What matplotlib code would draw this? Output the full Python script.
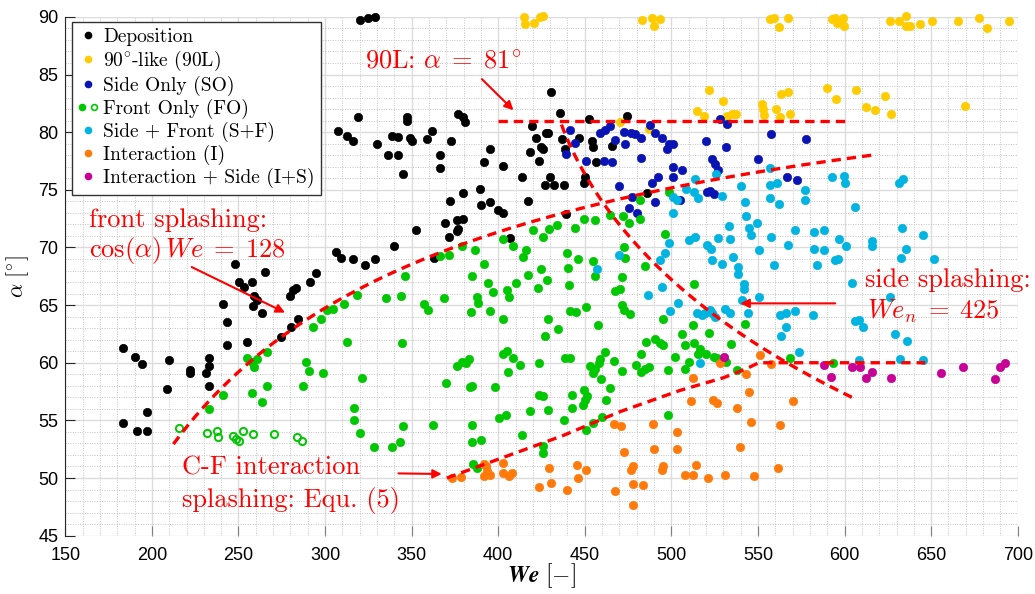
import numpy as np
import matplotlib
matplotlib.use('Agg')
import matplotlib.pyplot as plt
from matplotlib.lines import Line2D
from matplotlib.legend_handler import HandlerTuple
from matplotlib.ticker import MultipleLocator

plt.rcParams['mathtext.fontset'] = 'cm'
plt.rcParams['font.family'] = ['Liberation Sans', 'DejaVu Sans']
plt.rcParams['axes.unicode_minus'] = False

# ---------------- data (We, alpha) ----------------
deposition = [
    (183.5, 61.3), (183.5, 54.75), (190.2, 60.5), (194.1, 59.9), (191.2, 54.1), (197.0, 55.7),
    (197.0, 54.1), (209.9, 60.2), (208.5, 57.7), (222.0, 59.4), (222.0, 59.1), (231.1, 59.1),
    (233.0, 60.4), (233.0, 59.7), (233.0, 58.0), (241.3, 65.1), (243.6, 63.5), (243.6, 61.5),
    (255.1, 61.8), (258.6, 64.9), (263.4, 64.3), (274.6, 62.2), (280.4, 63.1), (284.2, 63.8),
    (248.0, 68.6), (250.1, 67.0), (253.4, 66.55), (258.0, 67.0), (265.4, 67.85), (259.2, 65.8),
    (260.5, 65.4), (279.8, 65.8), (281.7, 66.3), (283.3, 66.5), (291.3, 67.0), (294.8, 67.8),
    (306.4, 69.6), (309.1, 69.05), (307.7, 80.1), (312.5, 79.7),
    (320.2, 89.7), (325.0, 89.9), (328.9, 90.0), (316.4, 79.2), (318.9, 81.3), (329.9, 78.95),
    (336.6, 78.0), (342.0, 78.0), (338.9, 79.7), (342.4, 79.6), (344.9, 76.4), (347.2, 81.3),
    (347.2, 81.0), (349.1, 79.5), (350.1, 79.2), (359.1, 79.4), (362.0, 80.1), (366.4, 78.0),
    (366.1, 76.9), (372.6, 79.2), (376.7, 81.6), (379.5, 81.35), (380.9, 80.9), (391.5, 77.4),
    (395.0, 78.5), (403.0, 77.1), (379.5, 74.7), (372.2, 74.0), (389.6, 75.1), (389.9, 73.7),
    (395.0, 73.9), (399.8, 73.25), (403.0, 72.96), (376.1, 72.4), (379.4, 72.5), (369.0, 72.1),
    (376.5, 71.6), (371.5, 70.9), (376.1, 71.4), (352.6, 71.5), (340.1, 70.1), (316.0, 69.0),
    (323.1, 68.5), (328.9, 69.0), (363.0, 69.1), (407.0, 70.8), (414.0, 76.1), (417.3, 74.0),
    (418.1, 78.25), (419.4, 80.5), (421.7, 79.5), (423.6, 77.5), (424.8, 78.75), (426.1, 78.5),
    (427.7, 79.9), (429.0, 79.9), (430.6, 83.5), (430.0, 76.1), (427.1, 75.4), (432.5, 75.4),
    (437.7, 75.4), (435.8, 81.7), (436.7, 79.4), (438.3, 78.5), (446.4, 79.5), (449.3, 75.6),
    (450.2, 76.1), (452.7, 81.1), (454.1, 79.2), (454.5, 78.75), (456.6, 77.4), (465.6, 78.8),
    (474.3, 81.4), (485.8, 74.7), (439.0, 72.9),
]

like90 = [
    (414.6, 90.0), (415.2, 89.4), (420.8, 89.5), (426.1, 90.1), (424.2, 90.0),
    (483.0, 89.7), (488.7, 89.9), (489.7, 89.2), (493.5, 89.8), (470.4, 80.9), (486.8, 80.3),
    (556.7, 89.8), (559.0, 89.9), (562.3, 89.15), (567.3, 89.9), (592.7, 89.8), (595.6, 89.5),
    (599.1, 89.9), (599.5, 89.2), (594.6, 89.9), (626.0, 89.6), (631.2, 89.6), (635.7, 90.1),
    (635.7, 89.2), (638.0, 89.2), (643.8, 89.4), (650.5, 89.6), (665.5, 89.6), (677.5, 89.9),
    (682.3, 89.0), (694.8, 89.6),
    (522.0, 83.7), (529.7, 82.7), (514.7, 81.8), (518.6, 81.4), (532.1, 81.4), (535.0, 81.6),
    (537.5, 81.6), (552.3, 82.4), (552.9, 82.0), (553.6, 81.5), (560.4, 82.0), (563.3, 83.3),
    (567.3, 83.5), (562.9, 81.3), (568.3, 81.55), (589.8, 83.8), (595.2, 82.9), (606.8, 83.7),
    (612.6, 82.2), (617.8, 81.9), (623.5, 83.1), (626.8, 81.6), (669.4, 82.3),
]

side_only = [
    (441.6, 80.2), (444.1, 79.1), (439.0, 78.1), (450.8, 77.5), (458.5, 79.96), (461.8, 80.2),
    (464.7, 80.5), (467.5, 79.3), (472.9, 80.05), (473.3, 78.95), (476.8, 79.96), (479.1, 79.8),
    (482.4, 79.5), (487.4, 80.6), (490.3, 79.9), (494.5, 79.5), (497.4, 78.5), (501.2, 79.0),
    (498.4, 79.0), (482.4, 77.8), (460.8, 77.5), (465.6, 77.4), (469.5, 75.3), (477.2, 74.35),
    (475.6, 73.4), (480.4, 72.96), (488.7, 75.6), (492.0, 76.1), (490.7, 73.9), (500.9, 77.0),
    (501.2, 76.1),
    (527.8, 81.1), (532.1, 80.7), (520.1, 79.2), (531.7, 78.75), (557.7, 79.8), (577.5, 79.4),
    (549.8, 77.7), (523.4, 77.7), (524.9, 77.2), (526.9, 76.7), (506.1, 76.7), (566.7, 76.1),
    (572.5, 75.85), (520.5, 74.8), (522.4, 74.9), (524.4, 74.6), (505.1, 74.1),
]

front_only = [
    (255.1, 60.4), (258.0, 60.1), (260.5, 60.3), (259.0, 59.6), (266.3, 60.9), (258.0, 57.4),
    (263.8, 56.6), (266.7, 58.0), (240.9, 57.2), (233.2, 56.0), (289.0, 60.1), (291.0, 59.3),
    (298.7, 59.1), (287.5, 58.0), (292.9, 63.1), (297.5, 63.8), (301.4, 64.6), (304.8, 64.7),
    (311.0, 65.1), (312.5, 61.8),
    (318.3, 65.9), (335.3, 65.6), (343.7, 65.8), (357.2, 65.1), (359.7, 64.6), (368.8, 65.6),
    (387.6, 65.7), (388.6, 65.15), (396.7, 66.1), (406.5, 65.7), (384.4, 64.4), (395.0, 64.5),
    (402.5, 63.8), (344.3, 61.7), (321.2, 58.7), (316.8, 56.1), (316.8, 55.0), (320.2, 53.9),
    (328.3, 52.7), (338.5, 52.7), (343.0, 53.1), (344.9, 54.5), (362.2, 54.6), (369.9, 58.2),
    (376.1, 59.7), (379.0, 60.1), (381.5, 60.0), (383.4, 60.3), (383.8, 57.9), (384.7, 58.0),
    (398.2, 57.9), (384.7, 54.6), (384.7, 53.1), (390.1, 53.3), (385.3, 51.2), (387.6, 50.85),
    (402.7, 60.8), (405.0, 61.0), (408.4, 60.4), (405.5, 59.2), (412.7, 59.8), (400.2, 55.2),
    (404.6, 55.5), (414.0, 53.7), (418.1, 55.85), (423.3, 57.2), (425.8, 57.1), (428.5, 55.9),
    (423.8, 60.0), (427.1, 62.3), (428.5, 63.8), (434.8, 62.9), (426.1, 52.8), (425.8, 52.2),
    (437.7, 55.0), (442.5, 57.2), (442.5, 56.05), (438.7, 60.4), (441.2, 60.4), (441.2, 64.5),
    (445.0, 64.4), (450.6, 64.8), (457.9, 63.3), (449.3, 57.6), (450.2, 56.8), (451.2, 57.1),
    (448.9, 56.3), (450.8, 54.2), (455.0, 54.8), (459.8, 55.3), (453.1, 59.7), (456.0, 59.5),
    (458.0, 59.95), (458.9, 60.3), (461.8, 60.9), (455.0, 59.1), (459.3, 58.6), (464.7, 57.8),
    (462.3, 56.8), (467.0, 60.15), (471.4, 59.3), (471.4, 65.0), (472.4, 64.6), (476.2, 64.2),
    (479.7, 59.8), (482.4, 60.8), (482.6, 59.2), (484.9, 59.5), (486.8, 59.6), (485.3, 61.8),
    (490.7, 62.1), (493.5, 61.7), (494.9, 61.5), (495.1, 63.8), (502.2, 60.5), (498.0, 59.4),
    (498.0, 55.5),
    (481.6, 74.1), (464.7, 72.8), (472.0, 72.7), (475.8, 72.1), (481.6, 72.5), (449.6, 72.5),
    (456.0, 72.4), (444.4, 71.7), (433.8, 71.95), (429.6, 71.6), (420.0, 71.5), (426.1, 70.9),
    (403.0, 70.7), (408.4, 70.1), (414.2, 69.2), (416.1, 69.8), (439.8, 69.5), (445.8, 69.0),
    (454.6, 68.8), (440.2, 68.25), (456.0, 67.5), (471.4, 67.4), (470.4, 66.4), (467.5, 66.2),
    (472.4, 70.0), (473.0, 69.1), (484.9, 68.4), (496.1, 71.2), (498.4, 74.8), (424.8, 68.1),
    (428.1, 67.2), (422.7, 66.5), (417.1, 67.6), (410.4, 66.9), (405.0, 66.3), (394.0, 66.9),
    (391.9, 68.6), (385.1, 67.5), (386.7, 69.8), (379.0, 70.1), (371.3, 69.35), (366.4, 69.3),
    (346.2, 67.5), (440.6, 66.75),
    (512.8, 66.8), (512.2, 63.3), (521.9, 62.6), (506.1, 62.5), (508.0, 61.5), (512.8, 61.7),
    (516.3, 61.2), (515.1, 60.8), (520.1, 60.8), (524.4, 60.5), (526.3, 60.4), (531.7, 60.1),
    (509.9, 60.1), (508.0, 59.5), (534.4, 61.6), (537.8, 59.4), (542.7, 63.4), (568.6, 60.4),
    (593.3, 60.0),
]

front_only_open = [
    (215.5, 54.3), (232.0, 53.9), (237.8, 54.1), (238.4, 53.6), (247.1, 53.65), (248.6, 53.4),
    (250.5, 53.25), (252.4, 54.1), (258.6, 53.8), (270.5, 53.8), (284.0, 53.6), (286.5, 53.2),
]

side_front = [
    (501.2, 74.4), (503.2, 74.1), (501.2, 72.96), (498.9, 70.4), (496.4, 69.5), (493.5, 68.9),
    (494.5, 66.6), (486.4, 65.9), (470.0, 69.35), (456.9, 68.1), (499.3, 64.5), (504.1, 65.15),
    (525.9, 76.4), (556.7, 76.9), (513.8, 75.9), (508.6, 75.1), (512.8, 74.8), (515.1, 74.3),
    (529.2, 74.5), (540.3, 75.3), (556.7, 75.4), (560.9, 75.6), (556.7, 74.3), (561.9, 73.8),
    (577.3, 75.0), (577.3, 74.1), (592.7, 76.1), (599.5, 76.2), (600.0, 75.6), (631.2, 75.6),
    (633.7, 75.9), (606.2, 73.5), (542.3, 73.9), (543.0, 72.7), (549.4, 72.15), (545.0, 71.7),
    (546.1, 71.1), (533.0, 71.9), (533.6, 70.7), (526.7, 70.85), (509.9, 70.65), (513.8, 70.9),
    (520.5, 70.2), (522.8, 69.9), (550.4, 69.8), (557.5, 70.9), (567.1, 70.2), (571.2, 71.5),
    (582.5, 71.3), (587.9, 71.5), (582.5, 69.9), (588.3, 69.8), (596.6, 70.7), (601.0, 70.1),
    (615.8, 70.6), (615.8, 70.1), (633.2, 71.7), (645.3, 71.1), (635.5, 69.9), (632.8, 69.1),
    (651.8, 69.0), (594.6, 68.9), (596.0, 69.0), (584.1, 68.5), (559.0, 68.5), (535.5, 69.2),
    (523.4, 68.9), (529.2, 68.6), (538.2, 68.3), (538.2, 67.7), (541.7, 66.8), (541.7, 66.4),
    (604.3, 66.9),
    (540.7, 65.4), (550.7, 65.7), (544.0, 64.3), (514.7, 64.3), (517.6, 64.1), (519.5, 64.3),
    (522.4, 64.6), (523.4, 64.3), (525.3, 64.0), (531.1, 64.7), (533.6, 64.3), (562.5, 64.1),
    (566.3, 64.3), (571.5, 64.5), (581.7, 64.1), (566.3, 63.1), (563.3, 62.35), (606.2, 63.6),
    (608.1, 63.7), (610.6, 63.1), (626.4, 65.7), (629.3, 62.5), (636.0, 61.9), (573.5, 60.96),
    (516.7, 59.95), (608.1, 60.2), (632.2, 60.3), (645.1, 60.2),
]

interaction = [
    (373.2, 50.0), (378.6, 50.1), (391.9, 51.2), (393.4, 50.6), (391.5, 50.2), (395.3, 50.3),
    (393.0, 51.0), (402.7, 51.3), (402.5, 50.4), (406.3, 50.2), (407.9, 50.4), (423.8, 49.2),
    (430.4, 49.6), (440.0, 49.0), (429.4, 50.9), (445.4, 51.1), (450.8, 50.7), (445.8, 50.0),
    (466.6, 54.7), (470.8, 54.5), (472.4, 52.3), (467.2, 48.9), (477.8, 51.05), (476.8, 50.7),
    (477.6, 49.5), (483.5, 49.4), (477.8, 47.7), (489.3, 54.7), (490.1, 52.5), (494.9, 51.05),
    (494.5, 50.7), (503.2, 54.0), (503.2, 52.5),
    (528.2, 60.0), (551.3, 60.7), (557.7, 59.9), (543.2, 59.0), (512.4, 58.7), (511.3, 56.7),
    (523.8, 56.8), (526.3, 56.5), (537.8, 56.1), (545.0, 57.5), (570.2, 56.7), (546.1, 54.9),
    (562.9, 54.6), (539.8, 52.7), (508.0, 50.3), (512.4, 50.3), (514.3, 51.1), (521.1, 50.0),
    (531.1, 50.3), (547.8, 50.2), (561.5, 50.9),
]

interaction_side = [
    (530.1, 60.5), (588.3, 59.8), (592.1, 58.8), (604.3, 59.6), (609.1, 59.6), (612.6, 58.7),
    (615.8, 59.2), (626.8, 58.7), (655.9, 59.1), (668.4, 59.6), (687.1, 58.6), (690.0, 59.6),
    (692.9, 60.0),
]

# model / threshold lines
alpha_90L = 81.0
we_90L = [400, 600]
front_const = 128.0
we_front = [212.4, 615.8]
wen_side = 425.0
alpha_side = [57.0, 80.8]
cf_we = [370.3, 407.9, 437.7, 470.4, 505.0, 530.1, 543.6, 550.4, 646.6]
cf_alpha = [50.0, 52.06, 53.7, 55.76, 57.6, 58.7, 59.5, 60.0, 60.0]

# ---------------- colours ----------------
c_dep = '#000000'
c_90 = '#FFCC00'
c_so = '#0A14B4'
c_fo = '#00C800'
c_sf = '#00B4E1'
c_int = '#FF7A0A'
c_is = '#C80096'
c_red = '#FF0000'

fig = plt.figure(figsize=(10.35, 5.94), dpi=100)
ax = fig.add_axes([0.0631, 0.0982, 0.9202, 0.8734])

ms = 6.0
def pts(data):
    a = np.array(data)
    return a[:, 0], a[:, 1]

for data, col in [(deposition, c_dep), (like90, c_90), (side_only, c_so), (front_only, c_fo),
                  (side_front, c_sf), (interaction, c_int), (interaction_side, c_is)]:
    x, y = pts(data)
    ax.plot(x, y, ls='', marker='o', ms=ms, mfc=col, mec=col, mew=0.5, zorder=3, clip_on=False)
x, y = pts(front_only_open)
ax.plot(x, y, ls='', marker='o', ms=5.2, mfc='none', mec=c_fo, mew=1.4, zorder=3)

# threshold lines
dash = dict(color=c_red, lw=2.4, dashes=(2.8, 1.8), zorder=5)
ax.plot(we_90L, [alpha_90L, alpha_90L], **dash)
we_f = np.linspace(we_front[0], we_front[1], 200)
ax.plot(we_f, np.degrees(np.arccos(front_const / we_f)), **dash)
a_s = np.linspace(alpha_side[0], alpha_side[1], 200)
ax.plot(wen_side / np.sin(np.radians(a_s)) ** 2, a_s, **dash)
ax.plot(cf_we, cf_alpha, **dash)

# axes
ax.set_xlim(150, 700)
ax.set_ylim(45, 90)
ax.xaxis.set_major_locator(MultipleLocator(50))
ax.xaxis.set_minor_locator(MultipleLocator(10))
ax.yaxis.set_major_locator(MultipleLocator(5))
ax.yaxis.set_minor_locator(MultipleLocator(1))
ax.grid(which='major', color='#DCDCDC', lw=1.0, ls='-', zorder=0)
ax.grid(which='minor', color='#C4C4C4', lw=0.7, ls=(0, (1, 1.5)), zorder=0)
ax.set_axisbelow(True)
for s in ['top', 'right', 'bottom']:
    ax.spines[s].set_visible(False)
ax.spines['left'].set_color('#262626')
ax.spines['left'].set_linewidth(0.8)
ax.tick_params(which='major', direction='in', length=7, labelsize=13)
ax.tick_params(axis='x', which='major', color='#808080', pad=8, labelcolor='#000000')
ax.tick_params(axis='y', which='major', color='#262626', pad=5)
ax.tick_params(which='minor', length=0)

ax.set_ylabel(r'$\alpha\ [^{\circ}]$', fontsize=16)
ax.yaxis.set_label_coords(-0.036, 0.5)
xlabel_txt = ax.set_xlabel(r'$\mathbfit{We}\ [-]$', fontsize=17)
ax.xaxis.set_label_coords(0.5, -0.050)

# legend
cm = dict(family='cmr10', size=14)
h = lambda c: Line2D([], [], ls='', marker='o', ms=4.5, mfc=c, mec=c)
hfo = (h(c_fo), Line2D([], [], ls='', marker='o', ms=4.2, mfc='none', mec=c_fo, mew=1.2))
handles = [h(c_dep), h(c_90), h(c_so), hfo, h(c_sf), h(c_int), h(c_is)]
labels = ['Deposition', r'90$^{\circ}$-like (90L)', 'Side Only (SO)', 'Front Only (FO)',
          'Side + Front (S+F)', 'Interaction (I)', 'Interaction + Side (I+S)']
leg = ax.legend(handles, labels, loc='upper left', bbox_to_anchor=(0.0067, 0.9907),
                borderaxespad=0, prop=cm, frameon=True, fancybox=False, framealpha=1,
                edgecolor='#333333', handlelength=1.0, handletextpad=0.3, borderpad=0.33,
                labelspacing=0.15, handler_map={tuple: HandlerTuple(ndivide=None, pad=0.2)})
leg.get_frame().set_linewidth(1.0)
leg.set_zorder(10)

# annotations
tkw = dict(color=c_red, fontsize=19, family='cmr10', va='baseline', ha='left', zorder=11)
ax.text(323.2, 85.54, r'90L: $\alpha\;=\;81^{\circ}$', **tkw)
ax.text(163.7, 71.8, 'front splashing:', **tkw)
ax.text(163.7, 69.2, r'$\cos(\alpha)\,We\;=\;128$', **tkw)
ax.text(612.0, 66.55, 'side splashing:', **tkw)
ax.text(613.0, 63.86, r'$We_n\;=\;425$', **tkw)
ax.text(217.2, 50.27, 'C-F interaction', **tkw)
ax.text(217.2, 47.52, 'splashing: Equ. (5)', **tkw)

akw = dict(arrowstyle='-|>', color=c_red, lw=1.5, mutation_scale=13, shrinkA=0, shrinkB=0)
ax.annotate('', xy=(408.8, 81.9), xytext=(390.6, 84.6), arrowprops=akw, zorder=11)
ax.annotate('', xy=(276.9, 64.35), xytext=(223.0, 68.3), arrowprops=akw, zorder=11)
ax.annotate('', xy=(539.8, 65.15), xytext=(594.6, 65.15), arrowprops=akw, zorder=11)
ax.annotate('', xy=(367.4, 50.35), xytext=(342.4, 50.4), arrowprops=akw, zorder=11)

try:
    fig.savefig('out.png', dpi=100)
except Exception:
    xlabel_txt.set_text(r'$\mathbf{We}\ [-]$')
    fig.savefig('out.png', dpi=100)
